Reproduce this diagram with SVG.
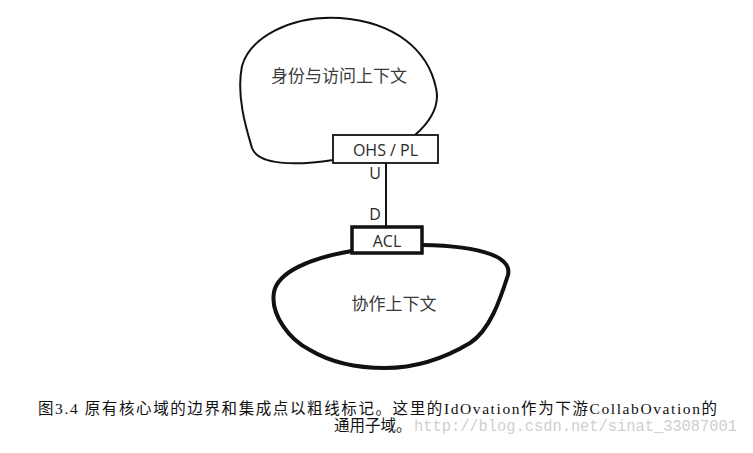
<svg xmlns="http://www.w3.org/2000/svg" width="753" height="453" viewBox="0 0 753 453">
<style>
.blob{fill:none;stroke:#111;stroke-linecap:round;stroke-linejoin:round}
.box{fill:#fff;stroke:#111}
.lbl{font-family:"Open Sans","Liberation Sans",sans-serif;font-size:16px;fill:#2a2a2a;text-anchor:middle}
.cjk{font-family:"Noto Sans CJK SC","Noto Sans",sans-serif;font-size:17px;fill:#3a3a3a;text-anchor:middle}
.cap{font-family:"Liberation Serif","Noto Sans CJK SC",serif;font-size:15.5px;fill:#111}
.wm{font-family:"Liberation Mono",monospace;font-size:16px;fill:#cfcfcf}
</style>
<rect width="753" height="453" fill="#fff"/>
<g id="connectors">
<line x1="386" y1="163" x2="386" y2="228" stroke="#111" stroke-width="2"/>
</g>
<g id="identity-context">
<path class="blob" stroke-width="2" d="M415,135 C432,120 440,105 436,88 C428,50 395,22 340,18 C290,15 250,38 242,66 C236,95 246,128 252,148 C258,165 295,166 333,160"/>
<text class="cjk" x="339" y="82">身份与访问上下文</text>
</g>
<g id="ohs-pl">
<rect class="box" x="333" y="135" width="105" height="28" stroke-width="1.8"/>
<text class="lbl" x="385.5" y="156">OHS / PL</text>
</g>
<text class="lbl" x="375" y="179">U</text>
<text class="lbl" x="375" y="220">D</text>
<g id="collab-context">
<path class="blob" stroke-width="4" d="M352,251 C310,258 278,272 274,292 C270,315 290,340 310,350 C330,362 355,368 385,368 C420,368 450,355 470,343 C490,330 500,300 508,275 C512,258 485,246 422,245"/>
<text class="cjk" x="394" y="310">协作上下文</text>
</g>
<g id="acl">
<rect class="box" x="352" y="227" width="70" height="26" stroke-width="3.5"/>
<text class="lbl" x="387" y="247">ACL</text>
</g>
<text class="wm" x="414" y="431" textLength="323" lengthAdjust="spacingAndGlyphs">http://blog.csdn.net/sinat_33087001</text>
<text class="cap" x="38" y="414" textLength="679" lengthAdjust="spacing">图3.4 原有核心域的边界和集成点以粗线标记。这里的IdOvation作为下游CollabOvation的</text>
<text class="cap" x="334" y="431">通用子域。</text>
</svg>
